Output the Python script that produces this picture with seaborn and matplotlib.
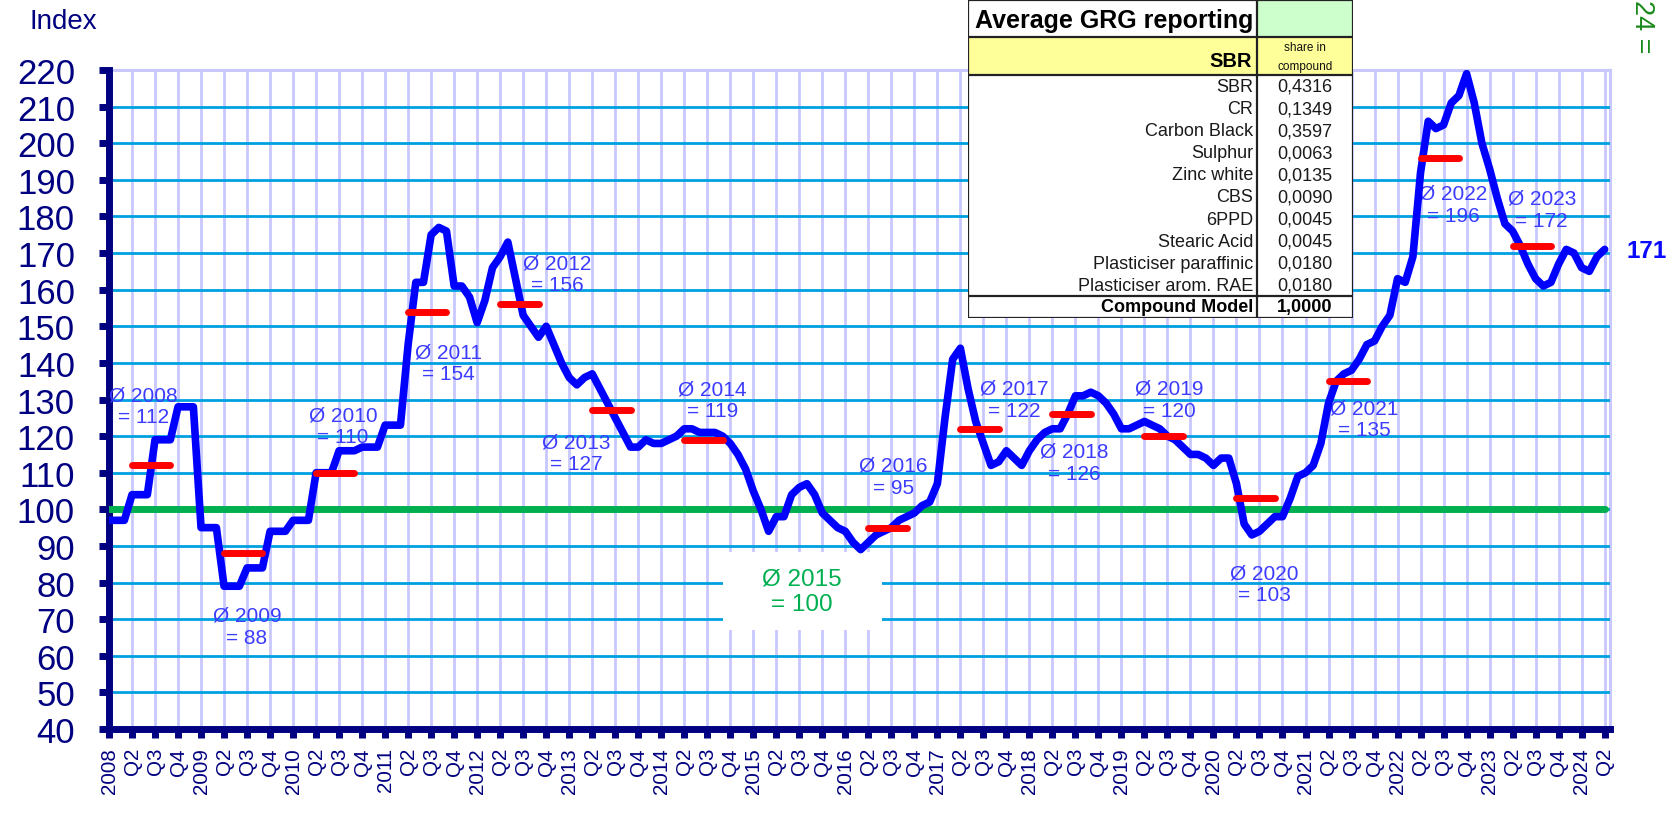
import numpy as np
import pandas as pd
import matplotlib
matplotlib.use("Agg")
import matplotlib.pyplot as plt
import seaborn as sns
from matplotlib.patches import Rectangle

# ---------------- data (monthly index, 2015 = 100) ----------------
index_2008_2011 = [97, 97, 97, 104, 104, 104, 119, 119, 119, 128, 128, 128,
                   95, 95, 95, 79, 79, 79, 84, 84, 84, 94, 94, 94,
                   97, 97, 97, 110, 110, 110, 116, 116, 116, 117, 117, 117,
                   123, 123, 123, 145, 162, 162, 175, 177, 176, 161, 161, 158]
index_2012_2015 = [151, 157, 166, 169, 173, 163, 153, 150, 147, 150, 145, 140,
                   136, 134, 136, 137, 133, 129, 125, 121, 117, 117, 119, 118,
                   118, 119, 120, 122, 122, 121, 121, 121, 120, 118, 115, 111,
                   105, 100, 94, 98, 98, 104, 106, 107, 104, 99, 97, 95]
index_2016_2019 = [94, 91, 89, 91, 93, 94, 95, 97, 98, 99, 101, 102,
                   107, 125, 141, 144, 133, 124, 118, 112, 113, 116, 114, 112,
                   116, 119, 121, 122, 122, 126, 131, 131, 132, 131, 129, 126,
                   122, 122, 123, 124, 123, 122, 120, 119, 117, 115, 115, 114]
index_2020_2024 = [112, 114, 114, 107, 96, 93, 94, 96, 98, 98, 103, 109,
                   110, 112, 118, 129, 135, 137, 138, 141, 145, 146, 150, 153,
                   163, 162, 169, 192, 206, 204, 205, 211, 213, 219, 211, 200,
                   193, 185, 178, 176, 172, 167, 163, 161, 162, 167, 171, 170,
                   166, 165, 169, 171]

avg_years = [2008, 2009, 2010, 2011, 2012, 2013, 2014, 2015,
             2016, 2017, 2018, 2019, 2020, 2021, 2022, 2023]
avg_values = [112, 88, 110, 154, 156, 127, 119, 100,
              95, 122, 126, 120, 103, 135, 196, 172]
base_year = 2015
base_value = 100
last_value = 171

first_year = 2008
n_quarters = 66  # 2008 Q1 .. 2024 Q2
y_ticks = list(range(40, 221, 10))

components = ["SBR", "CR", "Carbon Black", "Sulphur", "Zinc white", "CBS",
              "6PPD", "Stearic Acid", "Plasticiser paraffinic",
              "Plasticiser arom. RAE"]
shares = [0.4316, 0.1349, 0.3597, 0.0063, 0.0135, 0.0090,
          0.0045, 0.0045, 0.0180, 0.0180]
total_share = 1.0

# label anchor positions (month, value) for the yearly average notes
note_pos = {2008: (4.5, 128.3), 2009: (18.0, 68.1), 2010: (30.5, 122.8),
            2011: (44.2, 140.0), 2012: (58.4, 164.3), 2013: (60.9, 115.4),
            2014: (78.7, 130.0), 2015: (90.3, 77.6), 2016: (102.3, 109.0),
            2017: (118.0, 130.1), 2018: (125.8, 112.8), 2019: (138.3, 130.1),
            2020: (150.6, 79.7), 2021: (163.7, 124.8), 2022: (175.3, 183.3),
            2023: (186.8, 182.0)}

# ---------------- styling ----------------
sns.set_theme(style="white")
plt.rcParams["font.family"] = ["Liberation Sans", "DejaVu Sans"]

NAVY = "#000080"
BLUE = "#0000FF"
TXT_BLUE = "#3c3cff"
GRID_H = "#00A0E0"
GRID_V = "#C8C8FF"
GREEN = "#00B050"

values = index_2008_2011 + index_2012_2015 + index_2016_2019 + index_2020_2024
df = pd.DataFrame({"month": np.arange(len(values)), "index": values})

W, H = 1675, 820
fig = plt.figure(figsize=(W / 100, H / 100), dpi=100)
ax = fig.add_axes([109 / W, 1 - 730 / H, 1501 / W, 659 / H])

xmax = (n_quarters - 1) * 3 + 0.7
ax.set_xlim(0, xmax)
ax.set_ylim(40, 220)

# grid
for y in y_ticks[1:-1]:
    ax.axhline(y, color=GRID_H, lw=2.0, zorder=1)
q_pos = [3 * q for q in range(n_quarters)]
for x in q_pos[1:]:
    ax.axvline(x, color=GRID_V, lw=2.0, zorder=0.9)

# white box for the 2015 note
ax.add_patch(Rectangle((80.0, 67.0), 20.8, 21.3, facecolor="white",
                       edgecolor="none", zorder=2))

# base line 2015 = 100
ax.plot([0, len(values) - 1], [base_value, base_value], color=GREEN, lw=5,
        solid_capstyle="round", zorder=4)

# main index line
sns.lineplot(data=df, x="month", y="index", ax=ax, color=BLUE, lw=5.5,
             zorder=5, legend=False)
for ln in ax.get_lines()[-1:]:
    ln.set_solid_joinstyle("round")
    ln.set_solid_capstyle("round")

# yearly average bars and notes
for yr, av in zip(avg_years, avg_values):
    mx, my = note_pos[yr]
    if yr == base_year:
        ax.text(mx, my, f"Ø {yr}\n= {av}", ha="center", va="center",
                fontsize=17.5, color=GREEN, zorder=3, linespacing=1.25)
        continue
    start = (yr - first_year) * 12
    ax.plot([start + 3, start + 8], [av, av], color="#FF0000", lw=5,
            solid_capstyle="round", zorder=6)
    ax.text(mx, my, f"Ø {yr}\n= {av}", ha="center", va="center",
            fontsize=15, color=TXT_BLUE, zorder=3, linespacing=1.2)

# axes
xlabels = []
for q in range(n_quarters):
    yr = first_year + q // 4
    xlabels.append(str(yr) if q % 4 == 0 else f"Q{q % 4 + 1}")
ax.set_xticks(q_pos)
ax.set_xticklabels(xlabels, rotation=90, ha="center", va="top")
ax.set_yticks(y_ticks)
ax.set_yticklabels([str(v) for v in y_ticks])
ax.set_xlabel("")
ax.set_ylabel("")
ax.tick_params(axis="y", direction="out", length=7.5, width=5, color=NAVY,
               labelsize=25, labelcolor=NAVY, pad=17, left=True)
ax.tick_params(axis="x", direction="out", length=6.5, width=5, color=NAVY,
               labelsize=14.8, labelcolor=NAVY, pad=6.5, bottom=True)
ax.spines["left"].set_color(NAVY)
ax.spines["left"].set_linewidth(5)
ax.spines["bottom"].set_color(NAVY)
ax.spines["bottom"].set_linewidth(5)
for s in ("top", "right"):
    ax.spines[s].set_color(GRID_V)
    ax.spines[s].set_linewidth(2.2)
    ax.spines[s].set_zorder(0.5)

# texts outside the plot
fig.text(30 / W, 1 - 9 / H, "Index", fontsize=20, color=NAVY, ha="left", va="top")
fig.text(1626 / W, 1 - 251 / H, str(last_value), fontsize=17.5, fontweight="bold",
         color="#0a0aff", ha="left", va="center")
fig.text(1642 / W, 1.0, "24 =", rotation=-90, fontsize=19.5, color="#1a8a1a",
         ha="center", va="top")

# ---------------- composition table ----------------
tx0, tx1, ty0, ty1 = 968, 1353, 1, 319
tax = fig.add_axes([tx0 / W, 1 - ty1 / H, (tx1 - tx0) / W, (ty1 - ty0) / H], zorder=10)
tax.set_xlim(tx0, tx1)
tax.set_ylim(ty1, ty0)
tax.axis("off")
split = 1257
tax.add_patch(Rectangle((tx0, ty0), tx1 - tx0, ty1 - ty0, facecolor="white",
                        edgecolor="none"))
tax.add_patch(Rectangle((split, ty0), tx1 - split, 37, facecolor="#CCFFCC",
                        edgecolor="none"))
tax.add_patch(Rectangle((tx0, 38), tx1 - tx0, 38, facecolor="#FFFF99",
                        edgecolor="none"))
lk = dict(color="#222222", lw=1.6)
tax.plot([tx0, tx1, tx1, tx0, tx0], [ty0, ty0, ty1, ty1, ty0], **lk)
tax.plot([split, split], [ty0, ty1], **lk)
for yy in (38, 76, 297):
    tax.plot([tx0, tx1], [yy, yy], **lk)
tax.text(975, 21, "Average GRG reporting", fontsize=18, fontweight="bold",
         color="black", ha="left", va="center")
tax.text(1252, 62, "SBR", fontsize=14.5, fontweight="bold", color="black",
         ha="right", va="center")
tax.text(1305, 48, "share in", fontsize=8.5, color="#111111", ha="center", va="center")
tax.text(1305, 67, "compound", fontsize=8.5, color="#111111", ha="center", va="center")
for i, (c, s) in enumerate(zip(components, shares)):
    yy = 87.5 + 22.1 * i
    tax.text(1253, yy, c, fontsize=13, color="#1a1a1a", ha="right", va="center")
    tax.text(1305, yy, f"{s:.4f}".replace(".", ","), fontsize=13,
             color="#1a1a1a", ha="center", va="center")
tax.text(1253, 308, "Compound Model", fontsize=13, fontweight="bold",
         color="black", ha="right", va="center")
tax.text(1305, 308, f"{total_share:.4f}".replace(".", ","), fontsize=13,
         fontweight="bold", color="black", ha="center", va="center")

fig.savefig("out.png", dpi=100)
